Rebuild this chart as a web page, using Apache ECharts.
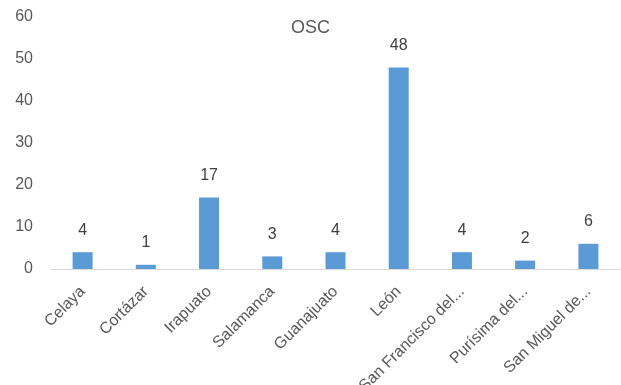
<!DOCTYPE html>
<html><head><meta charset="utf-8">
<script src="https://cdn.jsdelivr.net/npm/echarts@6/dist/echarts.min.js"></script>
<style>html,body{margin:0;padding:0;background:#fff}#c{width:621px;height:385px}</style>
</head><body><div id="c"></div>
<script>
const categories = ["Celaya","Cortázar","Irapuato","Salamanca","Guanajuato","León","San Francisco del...","Purísima del...","San Miguel de..."];
const values = [4,1,17,3,4,48,4,2,6];
const titleText = "OSC";
const font = "Liberation Sans";
const chart = echarts.init(document.getElementById('c'), null, {renderer:'canvas'});
chart.setOption({
  animation:false,
  backgroundColor:'#fff',
  title:{text:titleText,left:'center',top:14,textStyle:{fontFamily:font,fontSize:18,fontWeight:'normal',color:'#595959'}},
  grid:{left:51,right:1,top:17,bottom:116,containLabel:false,outerBoundsMode:'none'},
  xAxis:{type:'category',data:categories,
    axisLine:{lineStyle:{color:'#d9d9d9',width:1}},axisTick:{show:false},
    axisLabel:{rotate:45,interval:0,fontFamily:font,fontSize:16,color:'#595959',margin:20}},
  yAxis:{type:'value',min:0,max:60,interval:10,
    axisLine:{show:false},axisTick:{show:false},splitLine:{show:false},
    axisLabel:{fontFamily:font,fontSize:16,color:'#595959',margin:18}},
  series:[{type:'bar',data:values,barWidth:20,itemStyle:{color:'#5B9BD5'},
    label:{show:true,position:'top',distance:14,fontFamily:font,fontSize:16,color:'#404040'}}]
});
</script></body></html>
